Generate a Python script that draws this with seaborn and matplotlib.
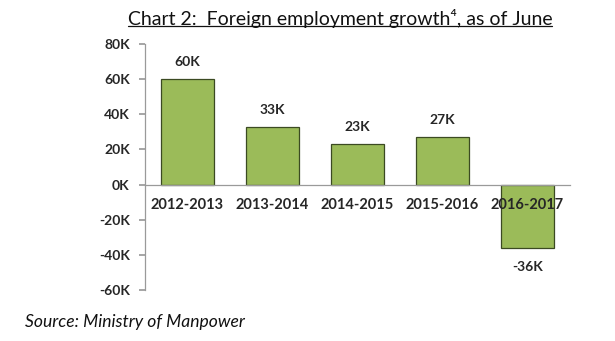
import matplotlib
matplotlib.use("Agg")
import matplotlib.pyplot as plt
import seaborn as sns
import pandas as pd
from matplotlib.lines import Line2D

categories = ["2012-2013", "2013-2014", "2014-2015", "2015-2016", "2016-2017"]
values = [60, 33, 23, 27, -36]  # thousands
value_labels = ["60K", "33K", "23K", "27K", "-36K"]
yticks = [-60, -40, -20, 0, 20, 40, 60, 80]
ytick_labels = ["-60K", "-40K", "-20K", "0K", "20K", "40K", "60K", "80K"]

sns.set_theme(style="white")
plt.rcParams["font.family"] = ["Lato", "DejaVu Sans"]

df = pd.DataFrame({"period": categories, "growth": values})

fig = plt.figure(figsize=(6.15, 3.41), dpi=100)
ax = fig.add_axes([145/615, 1-290/341, (570-145)/615, (290-44)/341])

sns.barplot(data=df, x="period", y="growth", color="#9BBB59", width=0.62,
            edgecolor="#3b4a22", linewidth=0.9, saturation=1, ax=ax)
ax.set_axisbelow(False)

ax.set_xlim(-0.5, 4.5)
ax.set_ylim(-60, 80)
ax.set_yticks(yticks)
ax.set_yticklabels(ytick_labels, fontsize=10, fontweight="bold")
ax.set_xlabel("")
ax.set_ylabel("")

for s in ["top", "right"]:
    ax.spines[s].set_visible(False)
ax.spines["left"].set_color("#9a9a9a")
ax.spines["bottom"].set_color("#9a9a9a")
ax.spines["bottom"].set_position(("data", 0))
ax.spines["left"].set_linewidth(0.9)
ax.spines["bottom"].set_linewidth(0.9)

ax.set_xticks(range(len(categories)))
ax.set_xticklabels(categories, fontsize=10.5, fontweight="bold")
ax.tick_params(axis="x", which="major", length=0, pad=10)
ax.set_xticks([0.5, 1.5, 2.5, 3.5, 4.5], minor=True)
ax.tick_params(axis="x", which="minor", length=4, color="#9a9a9a", direction="out")
ax.tick_params(axis="y", length=4, color="#9a9a9a", direction="out", pad=7, left=True)
for lab in ax.get_xticklabels():
    lab.set_zorder(5)

for i, (v, t) in enumerate(zip(values, value_labels)):
    off = 12 if v >= 0 else -14
    ax.annotate(t, xy=(i, v), xytext=(0, off), textcoords="offset points",
                ha="center", va="center", fontsize=10, fontweight="bold")

title = fig.text(340/615, 1-18/341, "Chart 2:  Foreign employment growth\u2074, as of June",
                 ha="center", va="center", fontsize=14, color="#111111")
fig.text(25/615, 1-322/341, "Source: Ministry of Manpower", ha="left", va="center",
         fontsize=12.6, fontstyle="italic", color="#111111")

fig.canvas.draw()
bb = title.get_window_extent().transformed(fig.transFigure.inverted())
fig.add_artist(Line2D([bb.x0, bb.x1], [bb.y0 + 0.004, bb.y0 + 0.004],
                      transform=fig.transFigure, color="#111111", linewidth=0.9))

fig.savefig("out.png", dpi=100)
